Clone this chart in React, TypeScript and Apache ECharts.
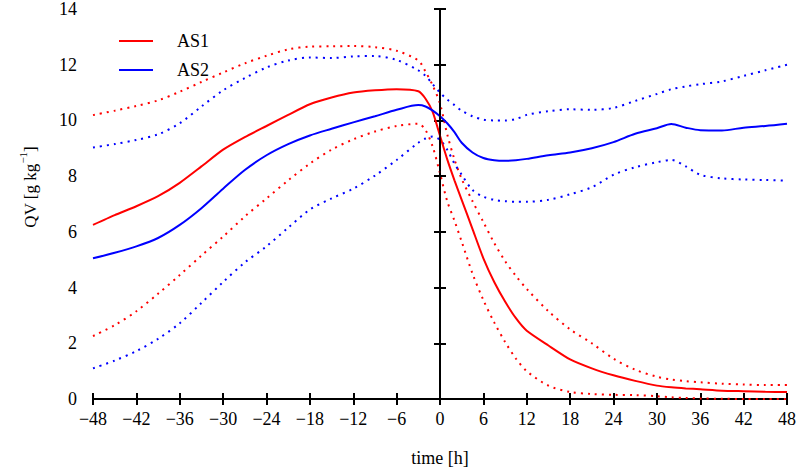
import React, { useEffect, useRef } from "react";
import * as echarts from "echarts";

const times = [-48, -45, -42, -39, -36, -33, -30, -27, -24, -21, -18, -15, -12, -9, -6, -3, -2, -1, 0, 1, 2, 3, 4.5, 6, 7.5, 9, 10.5, 12, 15, 18, 21, 24, 27, 30, 32, 34, 36, 39, 42, 45, 48];

const as1Mean = [6.25, 6.6, 6.92, 7.28, 7.76, 8.35, 8.95, 9.4, 9.8, 10.2, 10.58, 10.82, 11.0, 11.08, 11.12, 11.05, 10.78, 10.3, 9.45, 8.6, 7.85, 7.15, 6.1, 5.05, 4.2, 3.5, 2.9, 2.45, 1.92, 1.42, 1.1, 0.85, 0.65, 0.48, 0.42, 0.38, 0.35, 0.3, 0.28, 0.26, 0.25];
const as1Upper = [10.19, 10.35, 10.52, 10.72, 11.03, 11.38, 11.72, 12.05, 12.32, 12.55, 12.65, 12.66, 12.67, 12.63, 12.5, 12.15, 11.75, 11.25, 10.6, 9.5, 8.6, 7.9, 7.1, 6.35, 5.6, 4.95, 4.42, 3.95, 3.15, 2.5, 2.0, 1.45, 1.05, 0.8, 0.7, 0.64, 0.6, 0.55, 0.52, 0.5, 0.5];
const as1Lower = [2.26, 2.65, 3.15, 3.78, 4.45, 5.15, 5.83, 6.55, 7.2, 7.85, 8.45, 8.95, 9.32, 9.6, 9.8, 9.88, 9.65, 9.05, 8.1, 7.1, 6.4, 5.65, 4.5, 3.55, 2.75, 2.05, 1.45, 1.0, 0.48, 0.25, 0.18, 0.15, 0.14, 0.1, 0.06, 0.04, 0.02, 0.01, 0, 0, 0];
const as2Mean = [5.05, 5.25, 5.48, 5.78, 6.25, 6.85, 7.55, 8.22, 8.75, 9.15, 9.46, 9.7, 9.93, 10.15, 10.38, 10.55, 10.5, 10.35, 10.15, 9.9, 9.58, 9.2, 8.85, 8.65, 8.57, 8.55, 8.57, 8.62, 8.75, 8.85, 9.0, 9.22, 9.52, 9.72, 9.87, 9.74, 9.65, 9.64, 9.74, 9.8, 9.88];
const as2Upper = [9.03, 9.15, 9.3, 9.5, 9.9, 10.5, 11.08, 11.52, 11.9, 12.15, 12.26, 12.24, 12.3, 12.31, 12.17, 11.8, 11.6, 11.3, 11.0, 10.75, 10.55, 10.35, 10.15, 10.03, 10.0, 10.0, 10.05, 10.2, 10.33, 10.4, 10.38, 10.45, 10.7, 10.95, 11.12, 11.22, 11.3, 11.4, 11.6, 11.8, 12.0];
const as2Lower = [1.1, 1.38, 1.72, 2.16, 2.72, 3.45, 4.2, 4.9, 5.48, 6.15, 6.8, 7.2, 7.55, 8.02, 8.58, 9.2, 9.35, 9.42, 9.3, 8.95, 8.45, 8.05, 7.5, 7.26, 7.15, 7.1, 7.08, 7.08, 7.15, 7.35, 7.6, 8.05, 8.32, 8.5, 8.58, 8.35, 8.05, 7.92, 7.88, 7.86, 7.84];

const legendNames = ["AS1", "AS2"];
const zeroLine = 0;
const yTitle = "{a|QV [g kg}{s|\u22121}{a|]}";
const xTitle = "time [h]";

const RED = "#ff0000";
const BLUE = "#0000ff";
const FONT = "'Liberation Serif', 'Times New Roman', serif";

function pairs(vals: number[]) {
  return times.map((t, i) => [t, vals[i]]);
}

export default function App() {
  const ref = useRef<HTMLDivElement>(null);
  useEffect(() => {
    if (!ref.current) return;
    const chart = echarts.init(ref.current, undefined, { renderer: "svg" });
    const axisCommon = {
      axisLine: { show: true, lineStyle: { color: "#000", width: 2 } },
      axisTick: { show: true, inside: true, length: 6, lineStyle: { color: "#000", width: 2 } },
      splitLine: { show: false },
    };
    const dotted = (color: string) => ({ color, width: 2, type: [2, 5] as any, cap: "butt" as const });
    const solid = (color: string) => ({ color, width: 2 });
    chart.setOption({
      animation: false,
      textStyle: { fontFamily: FONT },
      grid: { left: 93, right: 24, top: 9, bottom: 74, outerBoundsMode: "none", containLabel: false },
      legend: {
        data: legendNames,
        orient: "vertical",
        left: 114,
        top: 27,
        itemWidth: 34,
        itemHeight: 2,
        itemGap: 11,
        icon: "rect",
        textStyle: { fontFamily: FONT, fontSize: 18, color: "#000", padding: [0, 0, 0, 19] },
      },
      graphic: [
        {
          type: "text",
          x: 28,
          y: 187,
          rotation: Math.PI / 2,
          style: {
            text: yTitle,
            align: "center",
            verticalAlign: "middle",
            rich: {
              a: { fontFamily: FONT, fontSize: 17, fill: "#000", lineHeight: 22, verticalAlign: "bottom" },
              s: { fontFamily: FONT, fontSize: 11, fill: "#000", lineHeight: 22, verticalAlign: "top" },
            },
          },
        },
      ],
      xAxis: [
        {
          type: "value",
          min: -48,
          max: 48,
          interval: 6,
          name: xTitle,
          nameLocation: "middle",
          nameGap: 50,
          nameTextStyle: { fontFamily: FONT, fontSize: 18, color: "#000" },
          axisLabel: {
            fontFamily: FONT,
            fontSize: 18,
            color: "#000",
            margin: 11,
            formatter: (v: number) => String(v).replace("-", "\u2212"),
          },
          ...axisCommon,
        },
        {
          type: "value",
          position: "top",
          min: -48,
          max: 48,
          interval: 6,
          axisLabel: { show: false },
          ...axisCommon,
        },
      ],
      yAxis: [
        {
          type: "value",
          min: 0,
          max: 14,
          interval: 2,
          axisLabel: { fontFamily: FONT, fontSize: 18, color: "#000", margin: 16 },
          ...axisCommon,
        },
        {
          type: "value",
          position: "right",
          min: 0,
          max: 14,
          interval: 2,
          axisLabel: { show: false },
          ...axisCommon,
        },
      ],
      series: [
        {
          name: "AS1 upper",
          type: "line",
          data: pairs(as1Upper),
          showSymbol: false,
          smooth: 0.3,
          lineStyle: dotted(RED),
          itemStyle: { color: RED },
        },
        {
          name: "AS1 lower",
          type: "line",
          data: pairs(as1Lower),
          showSymbol: false,
          smooth: 0.3,
          lineStyle: dotted(RED),
          itemStyle: { color: RED },
        },
        {
          name: "AS2 upper",
          type: "line",
          data: pairs(as2Upper),
          showSymbol: false,
          smooth: 0.3,
          lineStyle: dotted(BLUE),
          itemStyle: { color: BLUE },
        },
        {
          name: "AS2 lower",
          type: "line",
          data: pairs(as2Lower),
          showSymbol: false,
          smooth: 0.3,
          lineStyle: dotted(BLUE),
          itemStyle: { color: BLUE },
        },
        {
          name: "AS1",
          type: "line",
          data: pairs(as1Mean),
          showSymbol: false,
          smooth: 0.2,
          lineStyle: solid(RED),
          itemStyle: { color: RED },
          markLine: {
            silent: true,
            symbol: "none",
            label: { show: false },
            lineStyle: { color: "#000", width: 1.5, type: "solid" },
            data: [{ xAxis: zeroLine }],
          },
        },
        {
          name: "AS2",
          type: "line",
          data: pairs(as2Mean),
          showSymbol: false,
          smooth: 0.3,
          lineStyle: solid(BLUE),
          itemStyle: { color: BLUE },
        },
      ],
    });
    return () => chart.dispose();
  }, []);
  return <div ref={ref} style={{ position: "absolute", left: 0, top: 0, width: 811, height: 473 }} />;
}
